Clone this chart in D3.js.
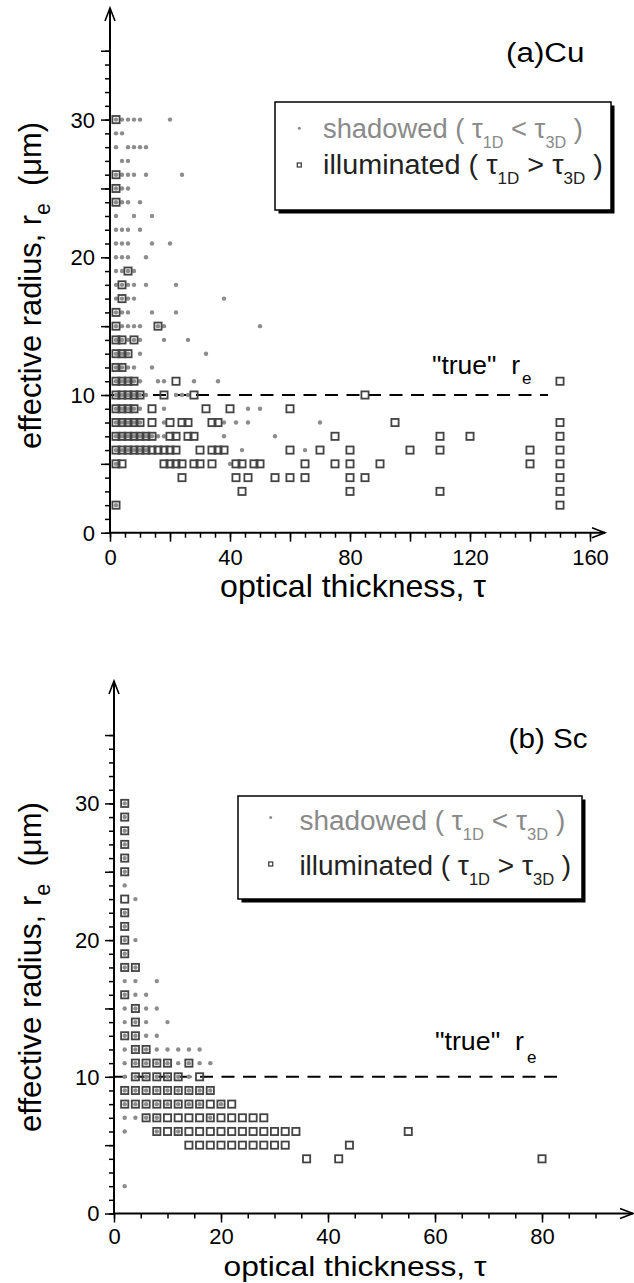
<!DOCTYPE html>
<html><head><meta charset="utf-8">
<script src="https://cdn.jsdelivr.net/npm/d3@7"></script>
<style>html,body{margin:0;padding:0;background:#fff}svg{display:block}</style>
</head><body>
<svg id="c" width="634" height="1283"></svg>
<script>
const FONT = "'Liberation Sans', Arial, Helvetica, sans-serif";

// ---- data: rows of [effective radius, [optical thickness values]] ----
const cuIlluminated = [
  [30,[2]],[26,[2]],[25,[2]],[24,[2]],[19,[6]],[18,[4]],[17,[4]],[16,[2]],[15,[2,16]],
  [14,[2,4,8]],[13,[2,4,6]],[12,[2,4]],[11,[2,4,6,8,22,150]],
  [10,[2,4,6,8,10,18,28,85]],[9,[2,4,6,8,14,32,40,60]],
  [8,[2,4,6,8,10,14,20,24,26,34,36,95,150]],
  [7,[2,4,6,8,10,12,14,20,22,26,28,75,110,120,150]],
  [6,[2,4,6,8,10,12,14,16,18,20,22,30,34,36,38,60,70,80,100,110,140,150]],
  [5,[2,4,18,20,22,24,28,30,34,42,44,48,50,65,75,80,90,140,150]],
  [4,[24,42,46,55,60,65,80,85,150]],[3,[44,80,110,150]],[2,[2,150]]
];
const cuShadowed = [
  [30,[2,4,6,8,10,20]],[29,[2,4]],[28,[2,6,8,10,12]],[27,[4,6]],[26,[2,4,6,8,12,24]],
  [25,[2,4,6]],[24,[2,4,6,10]],[23,[2,8,14]],[22,[2,4,6,10]],[21,[2,4,6,14,20]],
  [20,[2,4,6,12]],[19,[2,4,6,8]],[18,[2,4,6,8,12,22]],[17,[2,4,6,8,38]],[16,[2,4,6,14,22]],
  [15,[2,4,6,8,10,16,18,50]],[14,[2,4,6,8,10,18,26]],[13,[2,4,6,10,32]],[12,[2,4,6,8,14]],
  [11,[2,4,6,8,10,16,18,28,36]],[10,[2,4,6,8,10,12,22,24,26]],[9,[2,4,6,8,10,18,46,50]],
  [8,[2,4,6,8,10,18,38,42,46,70]],[7,[2,4,6,8,10,12,14,16,18,38,55]],
  [6,[2,4,6,8,10,12,44,65]],[5,[2,40]],[2,[2]]
];
const scIlluminated = [
  [30,[2]],[29,[2]],[28,[2]],[27,[2]],[26,[2]],[25,[2]],[23,[2]],[22,[2]],[21,[2]],
  [20,[2]],[19,[2]],[18,[2,4]],[16,[2]],[15,[4]],[14,[4]],[13,[2,4]],[12,[4,6]],
  [11,[4,6,8,10,14]],[10,[4,6,8,10,12,16]],
  [9,[2,4,6,8,10,12,14,16,18]],
  [8,[2,4,6,8,10,12,14,16,18,20,22]],
  [7,[6,8,10,12,14,16,18,20,22,24,26,28]],
  [6,[8,10,12,14,16,18,20,22,24,26,28,30,32,34,55]],
  [5,[14,16,18,20,22,24,26,28,30,32,44]],
  [4,[36,42,80]]
];
const scShadowed = [
  [30,[2]],[29,[2]],[28,[2]],[27,[2]],[26,[2]],[25,[2]],[24,[2]],[23,[4]],[22,[2]],
  [21,[2]],[20,[2,4]],[19,[2]],[18,[2,4]],[17,[2,4,8]],[16,[2,4,6]],[15,[2,4,6,8]],
  [14,[2,4,6,10]],[13,[2,4,6,8]],[12,[2,4,6,8,10,12,14,16]],
  [11,[2,4,6,8,10,12,14,16,18]],[10,[2,4,6,8,10,12,14]],
  [9,[2,4,6,8,10,12,14,16,18]],[8,[2,4,6,8,10,12,14,16,20]],
  [7,[2,4,6,8,18]],[6,[2,8,12]],[2,[2]]
];
const cuXTickLabels = [0, 40, 80, 120, 160];
const scXTickLabels = [0, 20, 40, 60, 80];
const yTickLabels = [0, 10, 20, 30];
const trueRe = 10;
const cuTrueLineEnd = 146;
const scTrueLineEnd = 83.5;

function expand(rows){
  const out = [];
  rows.forEach(([r, taus]) => taus.forEach(t => out.push({tau: t, re: r})));
  return out;
}

const panels = [
  {label: "(a)Cu", shad: cuShadowed, illum: cuIlluminated, xLabels: cuXTickLabels,
   xDomainMax: 160, xTickMax: 160, trueEnd: cuTrueLineEnd,
   left: 110, right: 590, bottom: 532.7, top30: 119.6, axisTop: 8, axisRight: 605,
   labelBox: [506, 62, 78.5],
   legend: {x: 275, y: 102, w: 336, h: 108, mx: 299.3, dotY: 128.3, sqY: 165, tx: 323,
            t1y: 137.7, t1w: 260, t2y: 174.3, t2w: 280},
   trueLbl: {x: 432, y: 373.5, w: 88, ex: 522, ey: 383.7},
   xTitle: {cx: 353, y: 597, w: 266, fs: 32}, yTitle: {x: 41, cy: 285.5, w: 327},
   xLabelY: 565, yLabelRight: 95},
  {label: "(b) Sc", shad: scShadowed, illum: scIlluminated, xLabels: scXTickLabels,
   xDomainMax: 80, xTickMax: 90, trueEnd: scTrueLineEnd,
   left: 114, right: 542, bottom: 1213.5, top30: 803.4, axisTop: 681, axisRight: 633,
   labelBox: [508.6, 747.5, 79],
   legend: {x: 238, y: 796, w: 344, h: 103, mx: 270.7, dotY: 817.6, sqY: 864, tx: 299.4,
            t1y: 829.5, t1w: 266, t2y: 874.6, t2w: 272},
   trueLbl: {x: 435, y: 1050, w: 89, ex: 527, ey: 1062.5},
   xTitle: {cx: 355, y: 1276, w: 263, fs: 28}, yTitle: {x: 41, cy: 967, w: 330},
   xLabelY: 1244, yLabelRight: 99.5}
];

const svg = d3.select("#c");

function scaleX(node, w){
  const n = node.getComputedTextLength();
  return n > 0 ? w / n : 1;
}

function legendLine(g, x, y, w, word, op, color){
  const t = g.append("text").attr("font-family", FONT).attr("font-size", 27).attr("fill", color)
    .attr("xml:space", "preserve");
  t.append("tspan").text(word + " ( \u03C4");
  t.append("tspan").attr("font-size", 16).attr("dy", 10).text("1D");
  t.append("tspan").attr("dy", -10).text(" " + op + " \u03C4");
  t.append("tspan").attr("font-size", 16).attr("dy", 10).text("3D");
  t.append("tspan").attr("dy", -10).text(" )");
  const s = scaleX(t.node(), w);
  t.attr("transform", `translate(${x},${y}) scale(${s},1)`);
}

panels.forEach(p => {
  const g = svg.append("g");
  const x = d3.scaleLinear().domain([0, p.xDomainMax]).range([p.left, p.right]);
  const y = d3.scaleLinear().domain([0, 30]).range([p.bottom, p.top30]);

  // ---- axes (ticks via d3 axes) ----
  const styleAxis = sel => {
    sel.select(".domain").remove();
    sel.selectAll(".tick line").attr("stroke", "#000").attr("stroke-width", 1.5);
    sel.selectAll("text").attr("font-family", FONT).attr("font-size", 22).attr("fill", "#000");
  };
  const xMinor = d3.range(0, p.xTickMax + 0.01, 5);
  const xMajor = d3.range(0, p.xTickMax + 0.01, 20);
  g.append("g").attr("transform", `translate(0,${p.bottom})`)
    .call(d3.axisBottom(x).tickValues(xMinor).tickSize(5).tickFormat("").tickSizeOuter(0))
    .call(styleAxis);
  const gxm = g.append("g").attr("transform", `translate(0,${p.bottom})`)
    .call(d3.axisBottom(x).tickValues(xMajor).tickSize(9).tickSizeOuter(0)
      .tickFormat(d => p.xLabels.includes(d) ? d : ""))
    .call(styleAxis);
  gxm.selectAll("text").attr("y", p.xLabelY - p.bottom).attr("dy", null);

  const yMinor = d3.range(0, 35.01, 1);
  const yMajor = d3.range(0, 35.01, 5);
  g.append("g").attr("transform", `translate(${p.left},0)`)
    .call(d3.axisLeft(y).tickValues(yMinor).tickSize(5).tickFormat("").tickSizeOuter(0))
    .call(styleAxis);
  const gym = g.append("g").attr("transform", `translate(${p.left},0)`)
    .call(d3.axisLeft(y).tickValues(yMajor).tickSize(9).tickSizeOuter(0)
      .tickFormat(d => yTickLabels.includes(d) ? d : ""))
    .call(styleAxis);
  gym.selectAll("text").attr("x", -(p.left - p.yLabelRight)).attr("dy", "0.34em");

  // axis lines + open arrowheads
  g.append("path")
    .attr("d", `M${p.left},${p.bottom}V${p.axisTop}M${p.left},${p.bottom}H${p.axisRight}`)
    .attr("stroke", "#000").attr("stroke-width", 2).attr("fill", "none");
  g.append("path")
    .attr("d", `M${p.left - 5},${p.axisTop + 13}L${p.left},${p.axisTop}L${p.left + 5},${p.axisTop + 13}` +
               `M${p.axisRight - 13},${p.bottom - 5}L${p.axisRight},${p.bottom}L${p.axisRight - 13},${p.bottom + 5}`)
    .attr("stroke", "#000").attr("stroke-width", 1.6).attr("fill", "none");

  // ---- "true" r_e dashed line ----
  g.append("line")
    .attr("x1", x(0)).attr("x2", x(p.trueEnd)).attr("y1", y(trueRe)).attr("y2", y(trueRe))
    .attr("stroke", "#000").attr("stroke-width", 2).attr("stroke-dasharray", "13,8.5");

  // ---- markers ----
  g.append("g").selectAll("circle").data(expand(p.shad)).join("circle")
    .attr("cx", d => x(d.tau)).attr("cy", d => y(d.re)).attr("r", 2.2).attr("fill", "#8c8c8c");
  const S = 7.2;
  g.append("g").selectAll("rect").data(expand(p.illum)).join("rect")
    .attr("x", d => x(d.tau) - S / 2).attr("y", d => y(d.re) - S / 2)
    .attr("width", S).attr("height", S).attr("fill", "none")
    .attr("stroke", "#444").attr("stroke-width", 1.8);

  // ---- "true" r_e label ----
  const tl = g.append("text").attr("font-family", FONT).attr("font-size", 25)
    .attr("xml:space", "preserve").text("\"true\"  r");
  tl.attr("transform", `translate(${p.trueLbl.x},${p.trueLbl.y}) scale(${scaleX(tl.node(), p.trueLbl.w)},1)`);
  g.append("text").attr("font-family", FONT).attr("font-size", 17)
    .attr("x", p.trueLbl.ex).attr("y", p.trueLbl.ey).text("e");

  // ---- panel label ----
  const pl = g.append("text").attr("font-family", FONT).attr("font-size", 28).text(p.label);
  pl.attr("transform", `translate(${p.labelBox[0]},${p.labelBox[1]}) scale(${scaleX(pl.node(), p.labelBox[2])},1)`);

  // ---- legend ----
  const L = p.legend;
  g.append("rect").attr("x", L.x + 3.5).attr("y", L.y + 3.5).attr("width", L.w).attr("height", L.h)
    .attr("fill", "#000");
  g.append("rect").attr("x", L.x).attr("y", L.y).attr("width", L.w).attr("height", L.h)
    .attr("fill", "#fff").attr("stroke", "#000").attr("stroke-width", 1.5);
  g.append("circle").attr("cx", L.mx).attr("cy", L.dotY).attr("r", 1.5).attr("fill", "#8c8c8c");
  g.append("rect").attr("x", L.mx - 2).attr("y", L.sqY - 2).attr("width", 4).attr("height", 4)
    .attr("fill", "none").attr("stroke", "#444").attr("stroke-width", 1.3);
  legendLine(g, L.tx, L.t1y, L.t1w, "shadowed", "<", "#8a8a8a");
  legendLine(g, L.tx, L.t2y, L.t2w, "illuminated", ">", "#222");

  // ---- axis titles ----
  const xt = g.append("text").attr("font-family", FONT).attr("font-size", p.xTitle.fs)
    .attr("text-anchor", "middle").text("optical thickness, \u03C4");
  xt.attr("transform", `translate(${p.xTitle.cx},${p.xTitle.y}) scale(${scaleX(xt.node(), p.xTitle.w)},1)`);

  const yt = g.append("text").attr("font-family", FONT).attr("font-size", 32)
    .attr("text-anchor", "middle").attr("xml:space", "preserve");
  yt.append("tspan").text("effective radius, r");
  yt.append("tspan").attr("font-size", 22).attr("dy", 9).text("e");
  yt.append("tspan").attr("dy", -9).text("  (\u03BCm)");
  yt.attr("transform", `translate(${p.yTitle.x},${p.yTitle.cy}) rotate(-90) scale(${scaleX(yt.node(), p.yTitle.w)},1)`);
});
</script>
</body></html>
